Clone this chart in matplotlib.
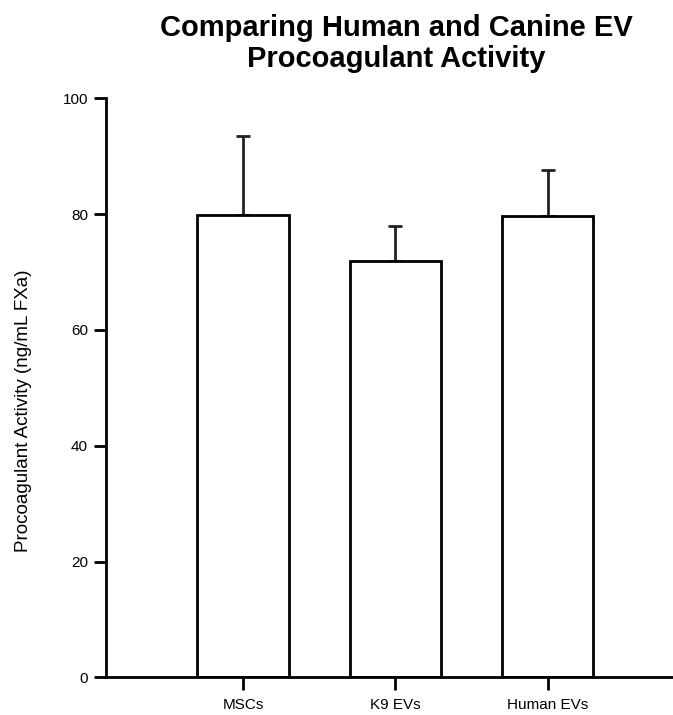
import matplotlib
matplotlib.use("Agg")
import matplotlib.pyplot as plt
import numpy as np

plt.rcParams['font.family'] = ['Liberation Sans', 'DejaVu Sans']

# group means and SD (ng/mL FXa)
groups = ['MSCs', 'K9 EVs', 'Human EVs']
means = [79.9, 71.9, 79.7]
sds = [13.6, 6.0, 8.0]

fig = plt.figure(figsize=(6.73, 7.15), dpi=100)
ax = fig.add_axes([0.1575, 0.0527, 0.8425, 0.8098])

x = np.arange(len(groups))
ax.bar(x, means, width=0.6, color='white', edgecolor='black', linewidth=2, zorder=2)
ax.errorbar(x, means, yerr=[np.zeros(len(sds)), sds], fmt='none', ecolor='#222222',
            elinewidth=2, capsize=4.8, capthick=2, zorder=1)

ax.set_xlim(-0.9, 2.824)
ax.set_ylim(0, 100)
ax.set_yticks([0, 20, 40, 60, 80, 100])
ax.set_xticks(x)
ax.set_xticklabels(groups, fontsize=11)
ax.tick_params(axis='y', labelsize=11, length=9, width=2, pad=4)
ax.tick_params(axis='x', length=9, width=2, pad=6)

for s in ['top', 'right']:
    ax.spines[s].set_visible(False)
for s in ['left', 'bottom']:
    ax.spines[s].set_linewidth(2)

ax.set_ylabel('Procoagulant Activity (ng/mL FXa)', fontsize=13.5)
ax.yaxis.set_label_coords(-0.13, 0.46)

fig.text(0.589, 0.981, 'Comparing Human and Canine EV\nProcoagulant Activity',
         ha='center', va='top', fontsize=21, fontweight='bold', linespacing=1.15)

fig.savefig('out.png', dpi=100)
